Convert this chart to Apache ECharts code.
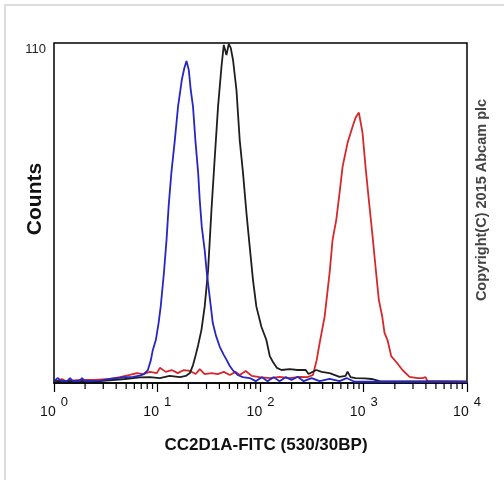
<!DOCTYPE html>
<html>
<head>
<meta charset="utf-8">
<script src="https://cdn.jsdelivr.net/npm/echarts@6/dist/echarts.min.js"></script>
<style>html,body{margin:0;padding:0;background:#fff}#c{width:504px;height:480px}</style>
</head>
<body>
<div id="c"></div>
<script>
// Fluorescence channel (x) and counts (y)
const blueData = [[1,0.6],[1.09,1.6],[1.18,0.6],[1.34,0.6],[1.43,1.6],[1.52,0.6],[1.76,0.6],[1.87,1.6],[1.98,0.6],[2.79,0.8],[3.48,1.3],[4.06,1.6],[4.86,1.9],[5.81,2.0],[6.79,2.4],[7.42,2.9],[8.11,4.2],[8.67,7.4],[9.06,10.7],[9.69,13.9],[10.3,19.4],[10.8,24.7],[11.6,35.6],[12.3,46.3],[12.9,57.3],[13.7,68.0],[14.8,78.6],[15.9,89.4],[17.3,98.1],[18.3,101.9],[19.2,104.2],[20.2,101.3],[21.1,94.8],[22.2,89.4],[23.4,78.6],[24.9,68.0],[25.8,59.2],[27.0,50.5],[28.8,43.0],[30.2,35.6],[31.6,30.1],[33.0,24.9],[34.5,19.4],[36.9,15.5],[40.3,11.7],[44.1,9.1],[47.1,7.4],[50.4,5.5],[53.8,4.2],[60.1,2.6],[67.3,1.9],[78.6,1.6],[89.9,0.6],[103,1.9],[117,0.6],[134,1.9],[153,0.6],[175,1.9],[200,1.0],[229,2.0],[262,0.6],[313,1.6],[374,0.6],[467,1.3],[583,0.6],[682,1.6],[815,0.4],[10000,0.4]];
const blackData = [[1,0.6],[2.79,0.6],[4.86,1.3],[6.79,1.8],[8.48,1.9],[10.6,1.6],[13.2,2.3],[16.6,1.9],[18.9,2.3],[20.7,3.2],[22.2,5.8],[23.6,9.1],[24.9,12.3],[26.8,17.2],[28.8,24.7],[31.1,36.6],[33.5,56.0],[36.1,73.2],[38.8,89.4],[41.9,102.4],[44.1,109.4],[46.8,106.1],[49.3,109.7],[51.5,108.4],[54.2,104.5],[58.5,94.8],[62.9,78.6],[67.7,68.0],[73.1,55.0],[78.6,44.1],[84.6,33.3],[91.2,24.7],[102,18.2],[114,13.9],[123,8.7],[132,6.8],[144,4.9],[160,4.2],[191,4.5],[229,4.2],[274,4.2],[292,2.9],[347,4.2],[391,3.6],[467,3.2],[583,2.0],[667,2.3],[697,3.7],[745,1.9],[833,1.6],[1018,1.5],[1190,1.3],[1422,0.6],[10000,0.4]];
const redData = [[1,0.6],[1.09,0.6],[1.19,1.3],[1.30,0.6],[1.78,1.0],[2.49,1.0],[3.48,1.3],[4.35,1.9],[5.43,2.6],[6.35,3.2],[7.26,2.9],[8.48,3.6],[9.91,3.2],[10.6,4.9],[12.1,3.6],[13.8,4.2],[15.8,3.2],[18.1,4.2],[20.7,3.9],[23.6,2.9],[25.8,4.5],[28.8,2.9],[33.7,3.2],[38.6,2.9],[44.1,3.6],[50.4,2.6],[57.5,3.6],[62.9,2.6],[71.9,3.9],[82.2,2.3],[98.2,1.9],[123,1.6],[153,2.0],[191,1.6],[239,2.0],[286,1.9],[322,2.6],[350,7.4],[374,12.9],[418,21.5],[467,35.6],[499,46.3],[542,52.8],[583,61.5],[624,70.0],[697,77.7],[779,82.9],[833,85.8],[897,87.5],[973,80.9],[1040,70.0],[1120,59.2],[1209,48.5],[1300,37.6],[1400,26.9],[1510,21.5],[1589,16.2],[1699,13.9],[1845,8.7],[2063,6.8],[2372,4.2],[2773,2.0],[3311,1.6],[3707,1.6],[3963,1.9],[4141,0.6],[10000,0.4]];
const minorTicks = [2,3,4,5,6,7,8,9,20,30,40,50,60,70,80,90,200,300,400,500,600,700,800,900,2000,3000,4000,5000,6000,7000,8000,9000];
const yTickLabels = ['110'];
const xTitle = 'CC2D1A-FITC (530/30BP)';
const yTitle = 'Counts';
const copyright = 'Copyright(C) 2015 Abcam plc';

const FONT = '"Liberation Sans", Arial, sans-serif';
const chart = echarts.init(document.getElementById('c'));
const lineSeries = (data, color) => ({
  type: 'line', data: data, symbol: 'none', smooth: false,
  lineStyle: { color: color, width: 1.8 }, itemStyle: { color: color }, z: 3
});
chart.setOption({
  animation: false,
  backgroundColor: '#fff',
  grid: { left: 54, top: 43, right: 37, bottom: 97, show: true, borderColor: '#000', borderWidth: 1.5, backgroundColor: 'transparent' },
  xAxis: {
    type: 'log', logBase: 10, min: 1, max: 10000,
    axisLine: { show: true, lineStyle: { color: '#000', width: 1.5 } },
    axisTick: { show: true, length: 9, lineStyle: { color: '#000', width: 1.2 } },
    splitLine: { show: false },
    axisLabel: {
      margin: 13, color: '#111', fontFamily: FONT,
      formatter: v => '{a|10}{b|' + Math.round(Math.log10(v)) + '}',
      rich: {
        a: { fontSize: 14, fontFamily: FONT, color: '#111' },
        b: { fontSize: 13, fontFamily: FONT, color: '#111', padding: [0, 0, 20, 5] }
      }
    }
  },
  yAxis: {
    type: 'value', min: 0, max: 110, interval: 110,
    axisLine: { show: false }, axisTick: { show: false }, splitLine: { show: false },
    axisLabel: {
      margin: 8, fontSize: 13, fontFamily: FONT, color: '#222', verticalAlign: 'top',
      formatter: v => (v === 110 ? yTickLabels[0] : '')
    }
  },
  graphic: [
    { type: 'rect', shape: { x: 5, y: 5, width: 530, height: 500 }, style: { fill: 'none', stroke: '#dcdcdc', lineWidth: 2 }, silent: true },
    { type: 'text', x: 35, y: 199, rotation: Math.PI / 2, style: { text: yTitle, font: 'bold 21px ' + FONT, fill: '#111', textAlign: 'center', textVerticalAlign: 'middle', align: 'center', verticalAlign: 'middle' } },
    { type: 'text', x: 266, y: 445, style: { text: xTitle, font: 'bold 17px ' + FONT, fill: '#111', textAlign: 'center', textVerticalAlign: 'middle', align: 'center', verticalAlign: 'middle' } },
    { type: 'text', x: 482, y: 200, rotation: Math.PI / 2, style: { text: copyright, font: 'bold 14.5px ' + FONT, fill: '#444', textAlign: 'center', textVerticalAlign: 'middle', align: 'center', verticalAlign: 'middle' } }
  ],
  series: [
    lineSeries(redData, '#d6282b'),
    lineSeries(blackData, '#1e1e1e'),
    lineSeries(blueData, '#2626c4'),
    {
      type: 'custom', data: minorTicks.map(v => [v, 0]), clip: false, silent: true, z: 10,
      renderItem: (params, api) => {
        const p = api.coord([api.value(0), 0]);
        return { type: 'line', shape: { x1: p[0], y1: p[1], x2: p[0], y2: p[1] + 6 }, style: { stroke: '#000', lineWidth: 1.2 } };
      }
    }
  ]
});
</script>
</body>
</html>
